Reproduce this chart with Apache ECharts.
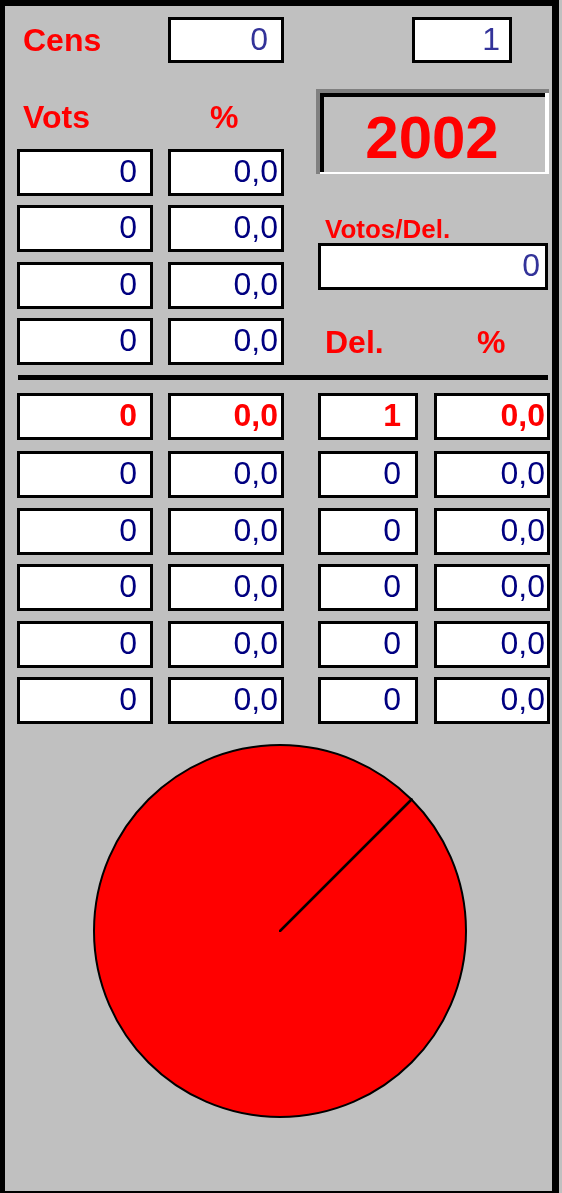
<!DOCTYPE html>
<html>
<head>
<meta charset="utf-8">
<script src="https://cdn.jsdelivr.net/npm/echarts@6/dist/echarts.min.js"></script>
<style>
  html, body { margin: 0; padding: 0; background: #c0c0c0; }
  #chart { width: 562px; height: 1193px; }
</style>
</head>
<body>
<div id="chart"></div>
<script>
// values
var cens = 0;
var totalDel = 1;
var year = 2002;
var votosPerDel = 0;
var topVots = [0, 0, 0, 0];
var topPct = [0, 0, 0, 0];
var vots = [0, 0, 0, 0, 0, 0];
var votsPct = [0, 0, 0, 0, 0, 0];
var dels = [1, 0, 0, 0, 0, 0];
var delsPct = [0, 0, 0, 0, 0, 0];

var FONT = '"Liberation Sans", Arial, sans-serif';
var RED = '#ff0000';
var NAVY = '#000080';
var SLATE = '#333399';

var chart = echarts.init(document.getElementById('chart'));

function fmt1(v) {
  return v.toFixed(1).replace('.', ',');
}

// a white cell with a black border, text right aligned
function cell(x, y, w, h, txt, color, bold, pad) {
  return {
    type: 'group',
    children: [
      {
        type: 'rect',
        shape: { x: x + 1.5, y: y + 1.5, width: w - 3, height: h - 3 },
        style: { fill: '#fff', stroke: '#000', lineWidth: 3 }
      },
      {
        type: 'text',
        x: x + w - pad,
        y: y + h / 2 + 1,
        style: {
          text: txt,
          fill: color,
          font: (bold ? 'bold ' : '') + '32px ' + FONT,
          align: 'right',
          verticalAlign: 'middle'
        }
      }
    ]
  };
}

// red heading, base is the baseline
function label(x, base, txt, size, align) {
  return {
    type: 'text',
    x: x,
    y: base - size * 0.8 + 1,
    style: {
      text: txt,
      fill: RED,
      font: 'bold ' + size + 'px ' + FONT,
      align: align || 'left',
      verticalAlign: 'top'
    }
  };
}

var g = [];

// frame
g.push({ type: 'rect', shape: { x: 0, y: 0, width: 559, height: 6 }, style: { fill: '#000' } });
g.push({ type: 'rect', shape: { x: 0, y: 0, width: 5, height: 1193 }, style: { fill: '#000' } });
g.push({ type: 'rect', shape: { x: 552, y: 0, width: 7, height: 1193 }, style: { fill: '#000' } });
g.push({ type: 'rect', shape: { x: 0, y: 1191, width: 559, height: 2 }, style: { fill: '#000' } });

// header
g.push(label(23, 51, 'Cens', 32));
g.push(cell(168, 17, 116, 46, String(cens), SLATE, false, 16));
g.push(cell(412, 17, 100, 46, String(totalDel), SLATE, false, 12));
g.push(label(23, 128, 'Vots', 32));
g.push(label(210, 128, '%', 32));

// year box, sunken look
g.push({ type: 'rect', shape: { x: 316, y: 89, width: 233, height: 85 }, style: { fill: '#808080' } });
g.push({ type: 'rect', shape: { x: 320, y: 93, width: 229, height: 81 }, style: { fill: '#fff' } });
g.push({ type: 'rect', shape: { x: 320, y: 93, width: 225, height: 79 }, style: { fill: '#000' } });
g.push({ type: 'rect', shape: { x: 324, y: 97, width: 221, height: 75 }, style: { fill: '#c0c0c0' } });
g.push(label(432, 158, String(year), 60, 'center'));

g.push(label(325, 238, 'Votos/Del.', 26));
g.push(cell(318, 243, 230, 47, String(votosPerDel), SLATE, false, 8));
g.push(label(325, 353, 'Del.', 32));
g.push(label(477, 353, '%', 32));

// top block
var topRows = [149, 205, 262, 318];
topRows.forEach(function (y, i) {
  g.push(cell(17, y, 136, 47, String(topVots[i]), NAVY, false, 16));
  g.push(cell(168, y, 116, 47, fmt1(topPct[i]), NAVY, false, 6));
});

// separator
g.push({ type: 'rect', shape: { x: 18, y: 375, width: 530, height: 5 }, style: { fill: '#000' } });

// bottom block
var rows = [393, 451, 508, 564, 621, 677];
rows.forEach(function (y, i) {
  var c = i === 0 ? RED : NAVY;
  var b = i === 0;
  g.push(cell(17, y, 136, 47, String(vots[i]), c, b, 16));
  g.push(cell(168, y, 116, 47, fmt1(votsPct[i]), c, b, 6));
  g.push(cell(318, y, 100, 47, String(dels[i]), c, b, 17));
  g.push(cell(434, y, 116, 47, fmt1(delsPct[i]), c, b, 5));
});

chart.setOption({
  backgroundColor: '#c0c0c0',
  animation: false,
  graphic: g,
  series: [
    {
      type: 'pie',
      center: [280, 931],
      radius: 186,
      startAngle: 45,
      clockwise: true,
      label: { show: false },
      labelLine: { show: false },
      emphasis: { disabled: true },
      itemStyle: { color: RED, borderColor: '#000', borderWidth: 2 },
      data: dels.map(function (v, i) { return { name: 'P' + (i + 1), value: v }; })
    }
  ]
});
</script>
</body>
</html>
